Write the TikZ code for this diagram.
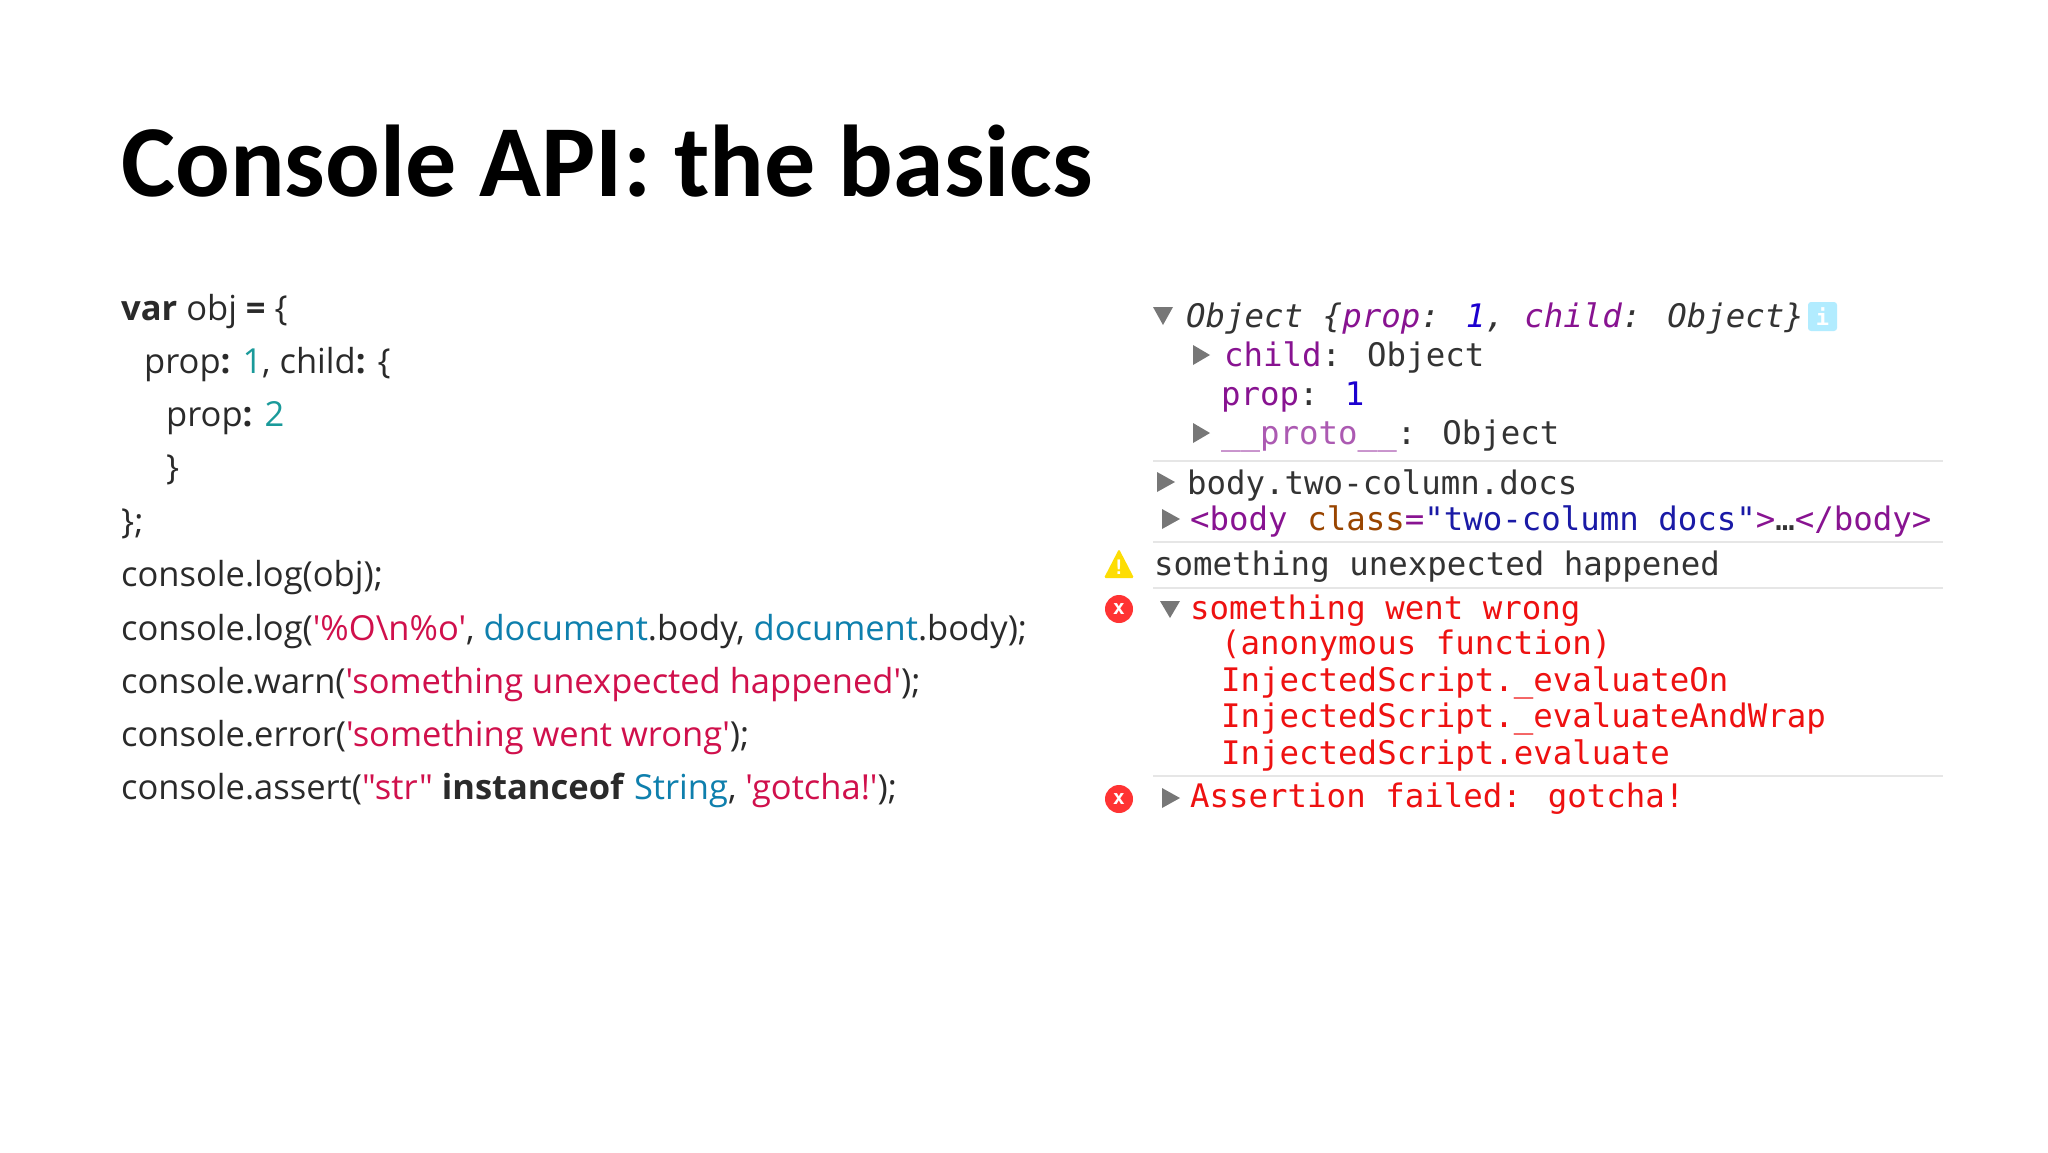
\documentclass[tikz,border=0pt]{standalone}
\usepackage{fontspec}
\newfontfamily\titlefont{Carlito}
\newfontfamily\codefont{Open Sans}
\newfontfamily\monofont{DejaVu Sans Mono}
\definecolor{txt}{HTML}{2A2A2A}
\definecolor{num}{HTML}{1A9A9A}
\definecolor{doc}{HTML}{0E7FAD}
\definecolor{str}{HTML}{D0104C}
\definecolor{cpur}{HTML}{881391}
\definecolor{cnum}{HTML}{1C00CF}
\definecolor{cattr}{HTML}{994500}
\definecolor{cstr}{HTML}{1A1AA6}
\definecolor{cred}{HTML}{EE1111}
\definecolor{cgray}{HTML}{333333}
\definecolor{tri}{HTML}{777777}
\definecolor{sep}{HTML}{E6E6E6}
\tikzset{
  code/.style={anchor=base west,inner sep=0pt,font=\codefont\fontsize{34.5}{34.5}\selectfont,text=txt},
  con/.style={anchor=base west,inner sep=0pt,font=\monofont\fontsize{32.4}{32.4}\selectfont,text=cgray},
  sepline/.style={draw=sep,line width=2pt},
  tri/.style={fill=tri},
}
\begin{document}
\begin{tikzpicture}[x=1pt,y=-1pt]
\useasboundingbox[fill=white] (0,0) rectangle (2048,1152);
\node[anchor=base west,inner sep=0pt,font=\titlefont\bfseries\fontsize{102}{102}\selectfont] (title) at (121,196) {Console API: the basics};
% code
\node[code] (c1) at (121,320) {\textbf{var} obj \textbf{=} \{};
\node[code] (c2) at (144,373) {prop\textbf{:} \textcolor{num}{1}, child\textbf{:} \{};
\node[code] (c3) at (166,426) {prop\textbf{:} \textcolor{num}{2}};
\node[code] (c4) at (166,479) {\}};
\node[code] (c5) at (121,533) {\};};
\node[code] (c6) at (121,586) {console.log(obj);};
\node[code] (c7) at (121,640) {console.log(\textcolor{str}{'\%O\textbackslash n\%o'}, \textcolor{doc}{document}.body, \textcolor{doc}{document}.body);};
\node[code] (c8) at (121,693) {console.warn(\textcolor{str}{'something unexpected happened'});};
\node[code] (c9) at (121,746) {console.error(\textcolor{str}{'something went wrong'});};
\node[code] (c10) at (121,799) {console.assert(\textcolor{str}{"str"} \textbf{instanceof} \textcolor{doc}{String}, \textcolor{str}{'gotcha!'});};
% console
\node[con] (o1) at (1186,327) {\itshape Object \{\textcolor{cpur}{prop}: \textcolor{cnum}{1}, \textcolor{cpur}{child}: Object\}};
\fill[tri] (1153,307) -- (1173,307) -- (1163,325) -- cycle;
\fill[rounded corners=3pt,fill=blue!25!cyan!30] (1808,302) rectangle (1837,331);
\node[inner sep=0pt,text=white,font=\monofont\bfseries\fontsize{22}{22}\selectfont] (info) at (1822.5,317) {i};
\node[con] (o2) at (1224,366) {\textcolor{cpur}{child}: Object};
\fill[tri] (1193,345) -- (1210,355) -- (1193,365) -- cycle;
\node[con] (o3) at (1221,405) {\textcolor{cpur}{prop}: \textcolor{cnum}{1}};
\node[con] (o4) at (1221,444) {\textcolor{cpur!70}{\_\_proto\_\_}: Object};
\fill[tri] (1193,423) -- (1210,433) -- (1193,443) -- cycle;
\draw[sepline] (1153,461) -- (1943,461);
\node[con] (b1) at (1187,494) {body.two-column.docs};
\fill[tri] (1157,472) -- (1175,482) -- (1157,492) -- cycle;
\node[con] (b2) at (1190,530) {\textcolor{cpur}{<body} \textcolor{cattr}{class}\textcolor{cpur}{=}\textcolor{cstr}{"two-column docs"}\textcolor{cpur}{>}…\textcolor{cpur}{</body>}};
\fill[tri] (1162,509) -- (1180,519) -- (1162,529) -- cycle;
\draw[sepline] (1153,542) -- (1943,542);
\fill[yellow!80!orange,rounded corners=1.5pt] (1119,549) -- (1134,578) -- (1104,578) -- cycle;
\node[inner sep=0pt,text=white,font=\monofont\bfseries\fontsize{20}{20}\selectfont] (warn) at (1119,567) {!};
\node[con] (w1) at (1154,575) {something unexpected happened};
\draw[sepline] (1153,588) -- (1943,588);
\fill[red!80!white] (1119,609) circle (14);
\node[inner sep=0pt,text=white,font=\monofont\bfseries\fontsize{20}{20}\selectfont] (err1) at (1119,609) {x};
\fill[tri] (1160,601) -- (1180,601) -- (1170,618) -- cycle;
\node[con,text=cred] (e1) at (1190,619) {something went wrong};
\node[con,text=cred] (e2) at (1221,654) {(anonymous function)};
\node[con,text=cred] (e3) at (1221,691) {InjectedScript.\_evaluateOn};
\node[con,text=cred] (e4) at (1221,727) {InjectedScript.\_evaluateAndWrap};
\node[con,text=cred] (e5) at (1221,764) {InjectedScript.evaluate};
\draw[sepline] (1153,776) -- (1943,776);
\fill[red!80!white] (1119,799) circle (14);
\node[inner sep=0pt,text=white,font=\monofont\bfseries\fontsize{20}{20}\selectfont] (err2) at (1119,799) {x};
\fill[tri] (1162,788) -- (1180,798) -- (1162,808) -- cycle;
\node[con,text=cred] (a1) at (1190,807) {Assertion failed: gotcha!};
\end{tikzpicture}
\end{document}
